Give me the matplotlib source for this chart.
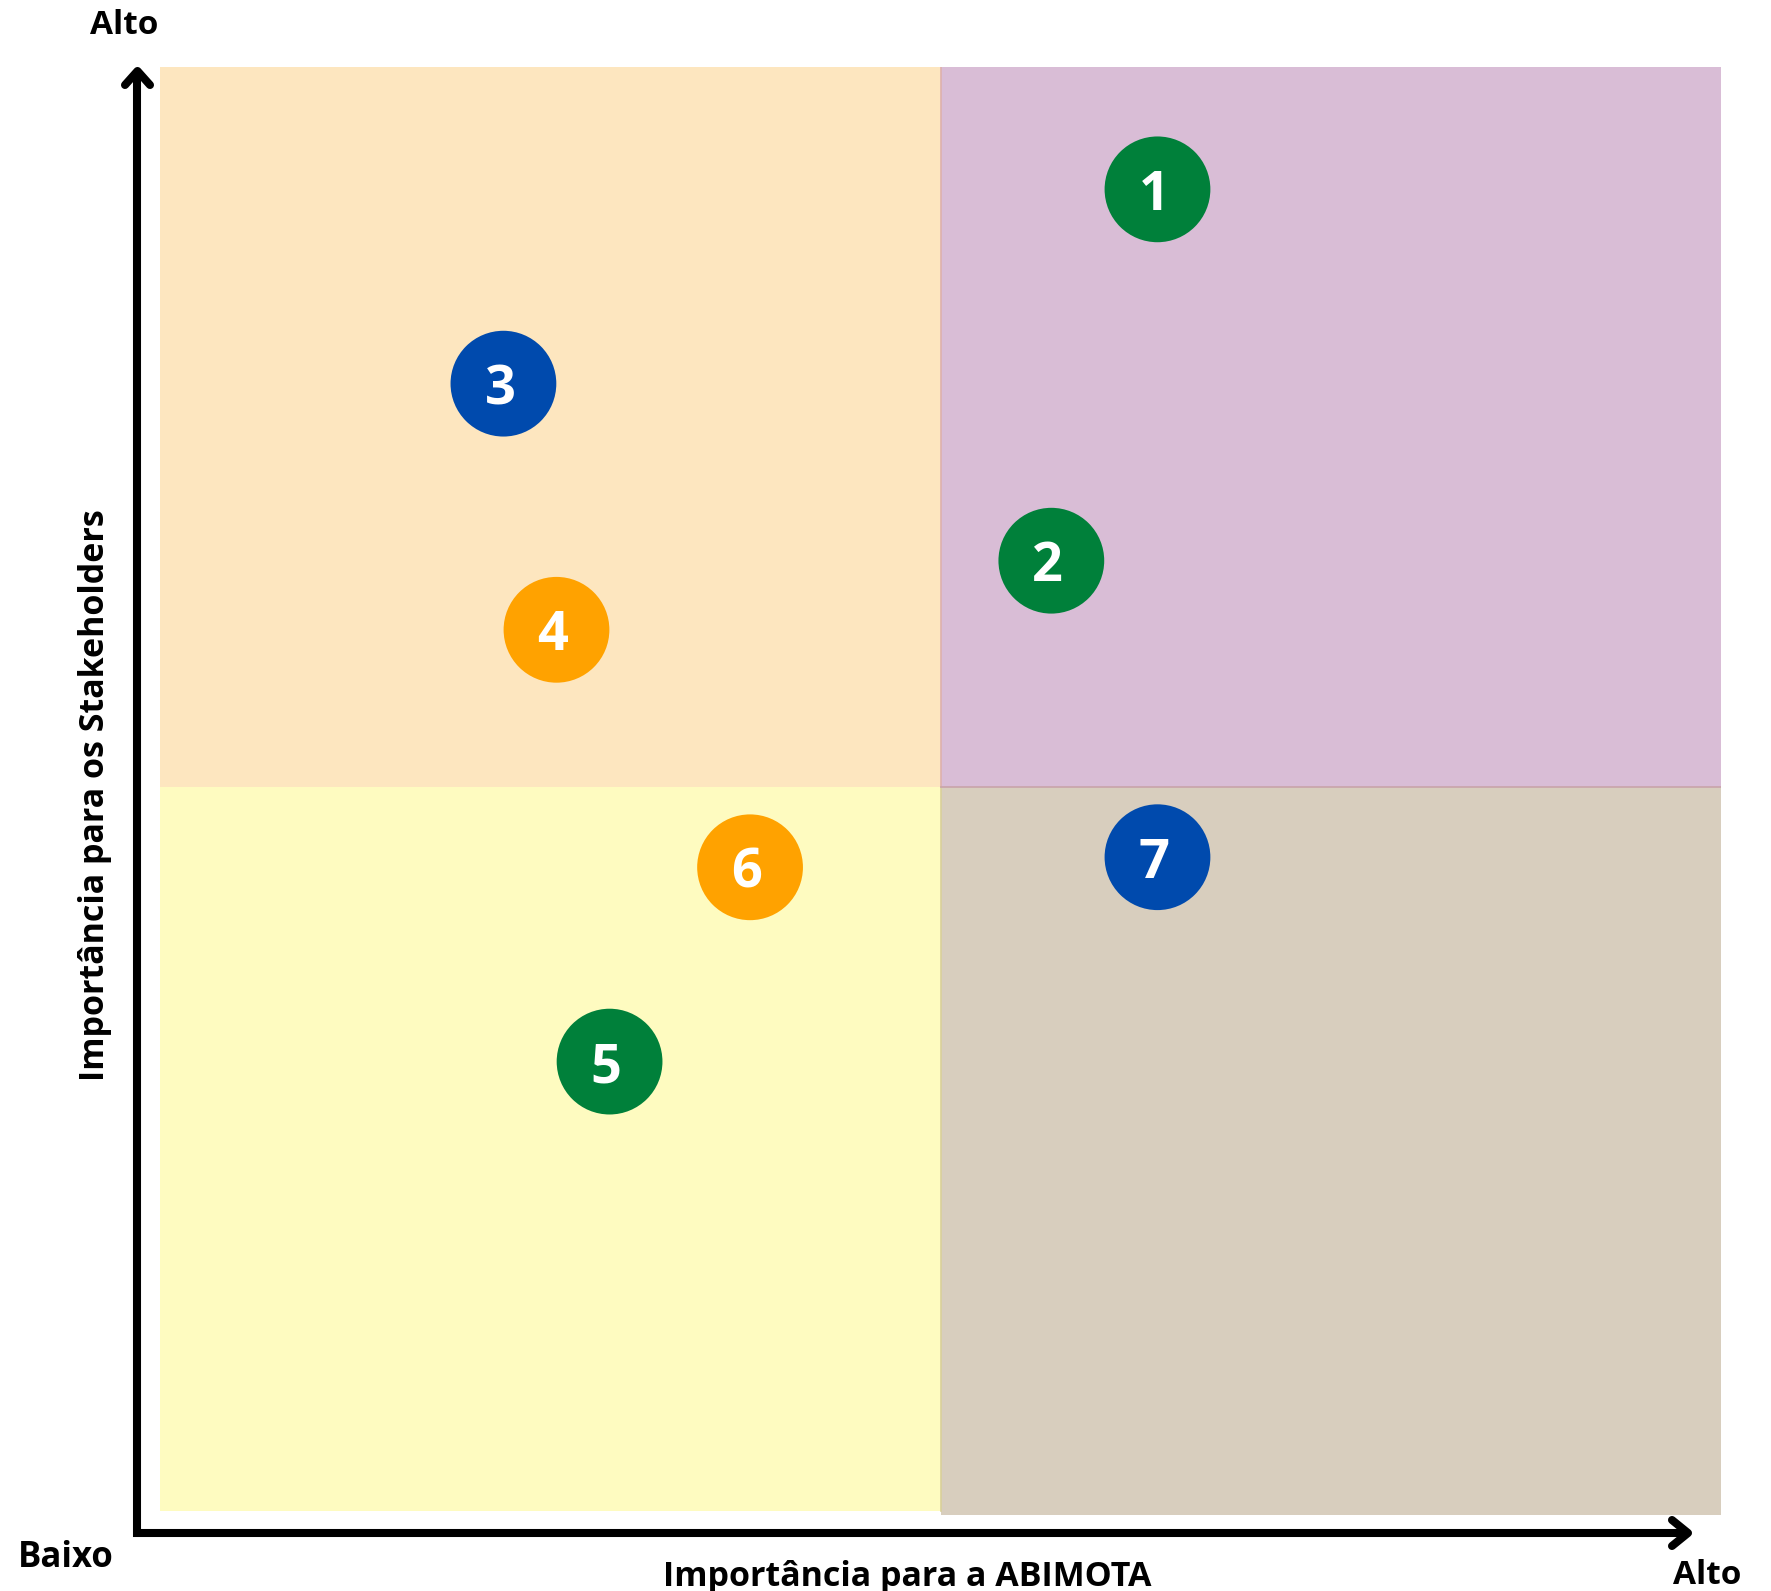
import matplotlib.pyplot as plt

# Materialidade: posição dos temas na matriz
temas = ["1", "2", "3", "4", "5", "6", "7"]
imp_abimota = [6.39, 5.71, 2.20, 2.54, 2.88, 3.78, 6.39]
imp_stakeholders = [9.15, 6.57, 7.80, 6.09, 3.09, 4.44, 4.51]
cores_temas = ["#00803A", "#00803A", "#004AAD", "#FFA200", "#00803A", "#FFA200", "#004AAD"]

x_label = "Importância para a ABIMOTA"
y_label = "Importância para os Stakeholders"
nivel_baixo = "Baixo"
nivel_alto = "Alto"

W, H = 1771, 1591
plt.rcParams['font.family'] = ['Open Sans', 'DejaVu Sans']

fig = plt.figure(figsize=(W / 100, H / 100), dpi=100)

# camada de fundo em pixels para setas e rótulos
bg = fig.add_axes([0, 0, 1, 1])
bg.set_xlim(0, W)
bg.set_ylim(H, 0)
bg.axis("off")

# ======= QUADRANTES =======
ax = fig.add_axes([160 / W, 1 - 1515 / H, 1561 / W, 1448 / H])
ax.set_xlim(0, 10)
ax.set_ylim(-0.06, 10)
ax.axis("off")

mid = 5
ax.add_patch(plt.Rectangle((0, mid), mid, 10 - mid, color="#FDE6BF", lw=0))
ax.add_patch(plt.Rectangle((mid, mid), 10 - mid, 10 - mid, color="#D9BDD6", lw=0))
ax.add_patch(plt.Rectangle((0, -0.03), mid, mid + 0.03, color="#FEFBC0", lw=0))
ax.add_patch(plt.Rectangle((mid, -0.06), 10 - mid, mid + 0.06, color="#D8CEBE", lw=0))
ax.plot([mid, mid], [mid, 10], color="#DDB0AC", lw=1.2)
ax.plot([mid, mid], [-0.03, mid], color="#D9D09A", lw=1.2)
ax.plot([mid, 10], [mid, mid], color="#C9A3AA", lw=1.2)

# ======= TEMAS =======
ax.scatter(imp_abimota, imp_stakeholders, s=5800, c=cores_temas, zorder=3, linewidths=0)
for t, x, y in zip(temas, imp_abimota, imp_stakeholders):
    ax.annotate(t, (x, y), xytext=(-2.5, 0), textcoords="offset points",
                ha="center", va="center_baseline", color="white",
                fontsize=39, fontweight="bold", zorder=4)

# ======= EIXOS (setas) =======
lw = 5.8
bg.plot([137.5, 137.5], [1537, 72], color="black", lw=lw, solid_capstyle="butt")
bg.plot([125, 137.5, 150], [85, 71, 85], color="black", lw=lw,
        solid_capstyle="round", solid_joinstyle="round")
bg.plot([133, 1688], [1533, 1533], color="black", lw=lw, solid_capstyle="butt")
bg.plot([1672, 1688, 1672], [1520, 1533, 1546], color="black", lw=lw,
        solid_capstyle="round", solid_joinstyle="round")

# ======= RÓTULOS =======
bg.text(124, 25, nivel_alto, ha="center", va="center", fontsize=24, fontweight="bold")
bg.text(66, 1558, nivel_baixo, ha="center", va="center", fontsize=25, fontweight="bold")
bg.text(1707, 1576, nivel_alto, ha="center", va="center", fontsize=24, fontweight="bold")
bg.text(907, 1577, x_label, ha="center", va="center", fontsize=24.5, fontweight="bold")
bg.text(95, 795, y_label, ha="center", va="center", rotation=90,
        fontsize=24.5, fontweight="bold")

fig.savefig("out.png", dpi=100)
